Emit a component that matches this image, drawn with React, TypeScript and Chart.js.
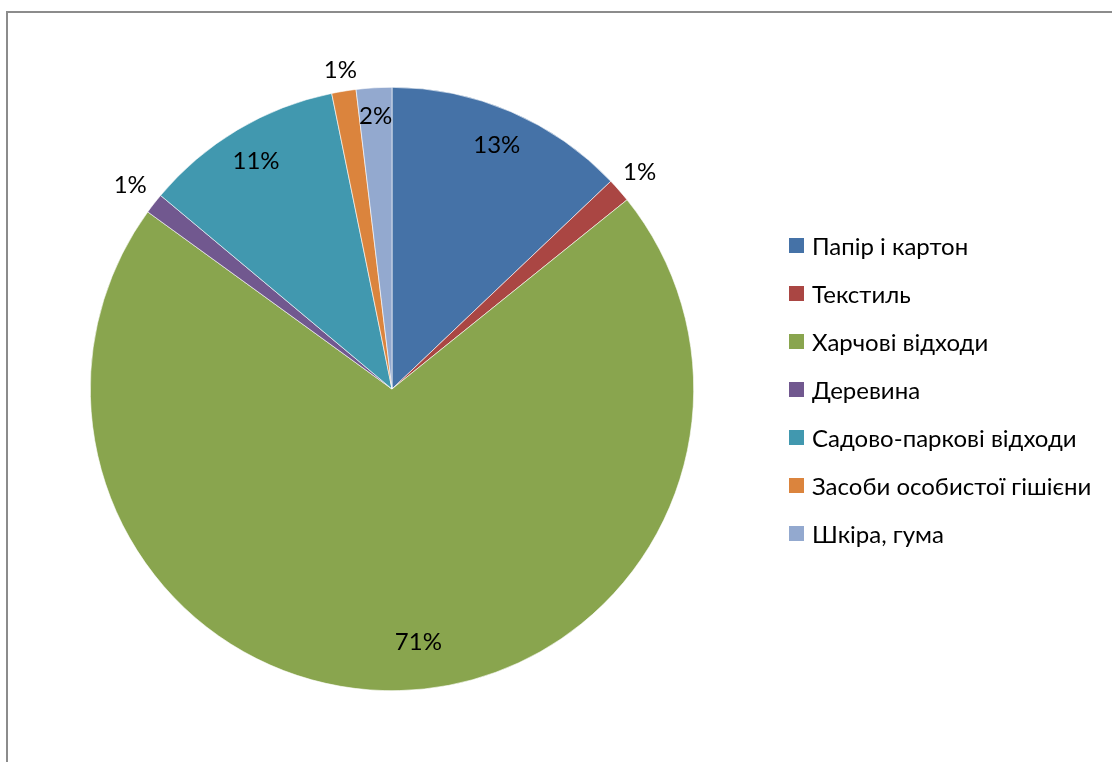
import React, { useEffect, useRef } from "react";
import { Chart, registerables } from "chart.js";

Chart.register(...registerables);

const categories = [
  "Папір і картон",
  "Текстиль",
  "Харчові відходи",
  "Деревина",
  "Садово-паркові відходи",
  "Засоби особистої гішієни",
  "Шкіра, гума",
];
const shares = [12.9, 1.3, 70.7, 1.1, 10.7, 1.3, 1.9];
const colors = ["#4572A7", "#AA4643", "#89A54E", "#71588F", "#4198AF", "#DB843D", "#93A9CF"];
const labelRadius = [0.88, 1.09, 0.845, 1.1, 0.88, 1.07, 0.905];
const labelAngleShift = [0, 0, -4.5, 0, 0, 0, 0];

const FONT = "Lato, 'Noto Sans', 'Open Sans', sans-serif";
const FONT_SIZE = 24;

const pctLabels = {
  id: "pctLabels",
  afterDatasetsDraw(chart: any) {
    const ctx = chart.ctx;
    const meta = chart.getDatasetMeta(0);
    const data = chart.data.datasets[0].data as number[];
    const total = data.reduce((a, b) => a + b, 0);
    ctx.save();
    ctx.font = `${FONT_SIZE}px ${FONT}`;
    ctx.fillStyle = "#000";
    ctx.textAlign = "center";
    ctx.textBaseline = "middle";
    meta.data.forEach((arc: any, i: number) => {
      const p = arc.getProps(["x", "y", "startAngle", "endAngle", "outerRadius"], true);
      const mid = (p.startAngle + p.endAngle) / 2 + (labelAngleShift[i] * Math.PI) / 180;
      const r = p.outerRadius * labelRadius[i];
      const x = p.x + Math.cos(mid) * r;
      const y = p.y + Math.sin(mid) * r;
      ctx.fillText(Math.round((data[i] / total) * 100) + "%", x, y);
    });
    ctx.restore();
  },
};

export default function App() {
  const ref = useRef<HTMLCanvasElement>(null);
  useEffect(() => {
    if (!ref.current) return;
    const chart = new Chart(ref.current, {
      type: "pie",
      data: {
        labels: categories,
        datasets: [
          {
            data: shares,
            backgroundColor: colors,
            borderColor: "#ffffff",
            borderWidth: 0.6,
          },
        ],
      },
      options: {
        animation: false,
        responsive: false,
        maintainAspectRatio: false,
        layout: { padding: { left: 90, right: 418, top: 87, bottom: 71 } },
        plugins: {
          legend: { display: false },
          tooltip: { enabled: false },
        },
      },
      plugins: [pctLabels],
    });
    return () => chart.destroy();
  }, []);

  return (
    <div
      style={{
        position: "fixed",
        left: 0,
        top: 0,
        width: 1112,
        height: 762,
        overflow: "hidden",
        background: "#fff",
      }}
    >
      <div
        style={{
          position: "absolute",
          left: 6,
          top: 11,
          width: 1200,
          height: 900,
          border: "2px solid #8c8c8c",
        }}
      />
      <canvas ref={ref} width={1112} height={762} style={{ position: "absolute", left: 0, top: 0 }} />
      {categories.map((c, i) => (
        <div
          key={c}
          style={{
            position: "absolute",
            left: 789,
            top: 245 + i * 48 - 15,
            height: 30,
            display: "flex",
            alignItems: "center",
            fontFamily: FONT,
            fontSize: FONT_SIZE,
            color: "#000",
            whiteSpace: "nowrap",
          }}
        >
          <span
            style={{
              display: "inline-block",
              width: 15,
              height: 15,
              background: colors[i],
              marginRight: 8,
            }}
          />
          {c}
        </div>
      ))}
    </div>
  );
}
